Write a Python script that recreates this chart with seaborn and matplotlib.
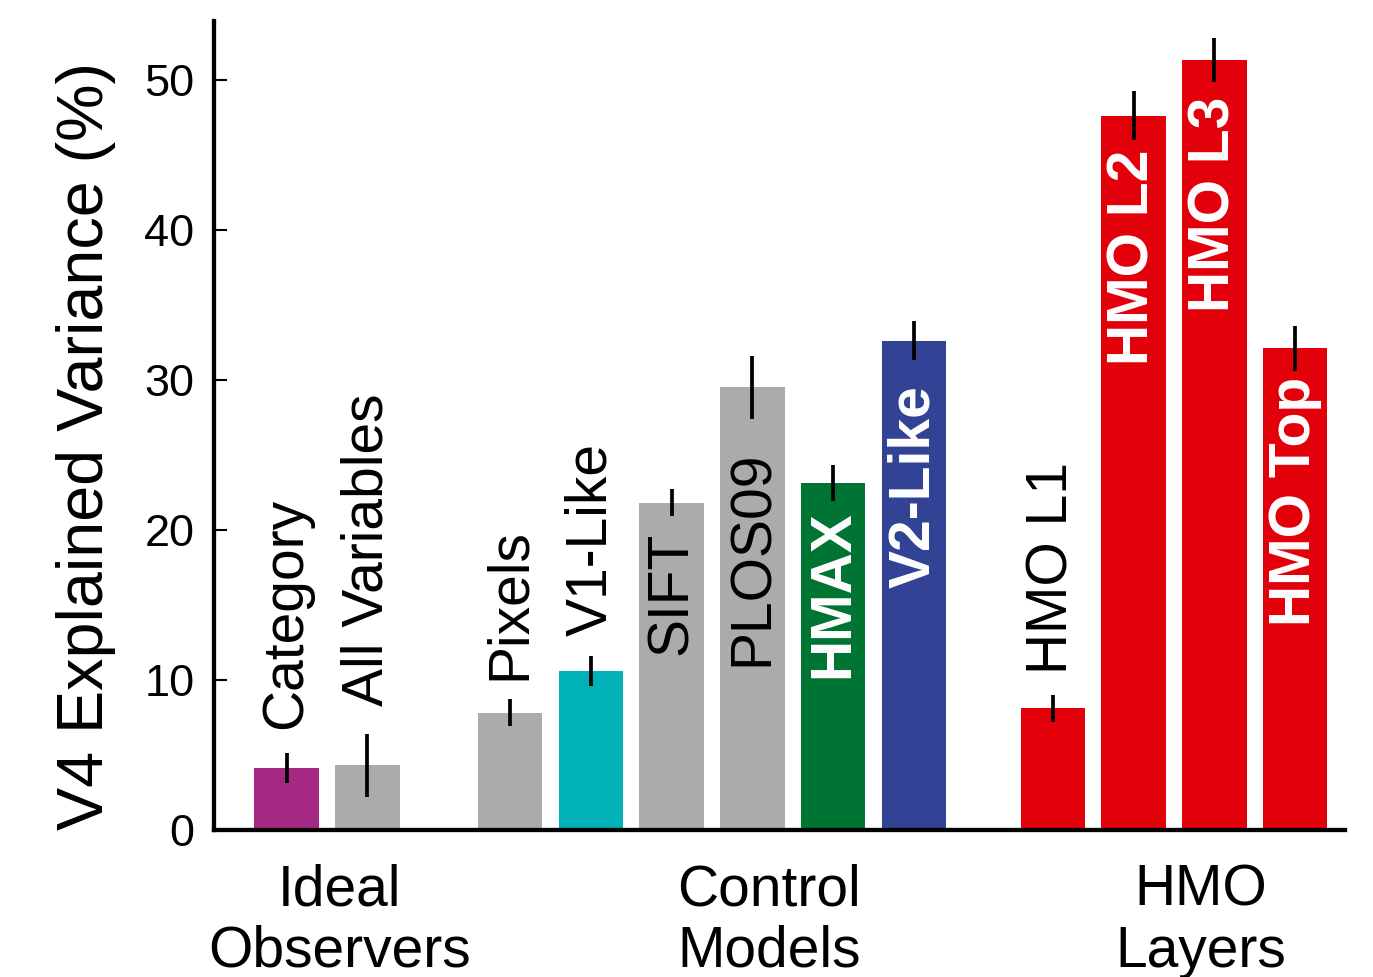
import matplotlib
matplotlib.use("Agg")
import matplotlib.pyplot as plt
import numpy as np
import pandas as pd
import seaborn as sns

# ---- data ---------------------------------------------------------------
models = ["Category", "All Variables",
          "Pixels", "V1-Like", "SIFT", "PLOS09", "HMAX", "V2-Like",
          "HMO L1", "HMO L2", "HMO L3", "HMO Top"]
group_of = ["Ideal Observers", "Ideal Observers",
            "Control Models", "Control Models", "Control Models",
            "Control Models", "Control Models", "Control Models",
            "HMO Layers", "HMO Layers", "HMO Layers", "HMO Layers"]
explained = [4.1, 4.3, 7.8, 10.6, 21.8, 29.5, 23.1, 32.6, 8.1, 47.6, 51.3, 32.1]
sem = [1.0, 2.1, 0.9, 1.0, 0.9, 2.1, 1.2, 1.3, 0.9, 1.65, 1.45, 1.5]
group_names = ["Ideal\nObservers", "Control\nModels", "HMO\nLayers"]
y_ticks = [0, 10, 20, 30, 40, 50]

# ---- styling ------------------------------------------------------------
PURPLE, GREY, TEAL = "#A62885", "#ABABAB", "#00B2B7"
GREEN, BLUE, RED = "#007433", "#324395", "#E2000B"
bar_colors = {"Category": PURPLE, "All Variables": GREY, "Pixels": GREY,
              "V1-Like": TEAL, "SIFT": GREY, "PLOS09": GREY, "HMAX": GREEN,
              "V2-Like": BLUE, "HMO L1": RED, "HMO L2": RED, "HMO L3": RED,
              "HMO Top": RED}

# label placement: (inside bar?, bold white?, gap in pixels)
label_style = {"Category": (False, False, 25), "All Variables": (False, False, 28),
               "Pixels": (False, False, 20), "V1-Like": (False, False, 20),
               "SIFT": (True, False, 28), "PLOS09": (True, False, 62),
               "HMAX": (True, True, 26), "V2-Like": (True, True, 44),
               "HMO L1": (False, False, 21), "HMO L2": (True, True, 33),
               "HMO L3": (True, True, 36), "HMO Top": (True, True, 28)}
group_label_x = [0.66, 5.98, 11.32]
group_gaps = [1.77, 1.72]

# bar positions: unit spacing within a group, wider gap between groups
positions = []
pos = 0.0
prev = None
n_breaks = 0
for g in group_of:
    if prev is not None:
        if g == prev:
            pos += 1.0
        else:
            pos += group_gaps[n_breaks]
            n_breaks += 1
    positions.append(pos)
    prev = g

df = pd.DataFrame({"model": models, "x": positions,
                   "value": explained, "sem": sem})

sns.set_style("ticks")
plt.rcParams["font.family"] = ["Liberation Sans", "DejaVu Sans"]
plt.rcParams.update({"text.color": "black", "axes.labelcolor": "black",
                     "xtick.color": "black", "ytick.color": "black",
                     "axes.edgecolor": "black"})

W, H = 1373, 978
fig = plt.figure(figsize=(W / 100, H / 100), dpi=100)
ax_left, ax_right, ax_top, ax_bottom = 214, 1345, 22, 830.5
ax = fig.add_axes([ax_left / W, 1 - ax_bottom / H,
                   (ax_right - ax_left) / W, (ax_bottom - ax_top) / H])

sns.barplot(data=df, x="x", y="value", hue="model", palette=bar_colors,
            native_scale=True, errorbar=None, width=0.8, saturation=1,
            linewidth=0, legend=False, ax=ax)
ax.errorbar(df["x"], df["value"], yerr=df["sem"], fmt="none",
            ecolor="black", elinewidth=2.7, capsize=0, zorder=3)

px2pt = 0.72
for xi, name, val, err in zip(df["x"], df["model"], df["value"], df["sem"]):
    inside, bold, gap = label_style[name]
    if inside:
        ax.annotate(name, xy=(xi, val), xytext=(0, -gap * px2pt),
                    textcoords="offset points", rotation=90, ha="center",
                    va="top", fontsize=41,
                    color="white" if bold else "black",
                    fontweight="bold" if bold else "normal", zorder=4)
    else:
        ax.annotate(name, xy=(xi, val + err), xytext=(0, gap * px2pt),
                    textcoords="offset points", rotation=90, ha="center",
                    va="bottom", fontsize=41, color="black", zorder=4)

ax.set_xlim(-0.898, 13.108)
ax.set_ylim(0, (ax_bottom - ax_top) / 15.0)
ax.set_yticks(y_ticks)
ax.set_yticklabels([str(t) for t in y_ticks], fontsize=32.5)
ax.set_xticks(group_label_x)
ax.set_xticklabels(group_names, fontsize=41, linespacing=1.16)
ax.tick_params(axis="x", length=0, pad=24)
ax.tick_params(axis="y", direction="in", length=9.4, width=1.5, pad=14)
ax.set_xlabel("")
ax.set_ylabel("V4 Explained Variance (%)", fontsize=46.5)
ax.yaxis.label.set(rotation_mode="default", va="center", ha="center")
ax.yaxis.set_label_coords((86 - ax_left) / (ax_right - ax_left),
                          (ax_bottom - 446) / (ax_bottom - ax_top))

for side in ("top", "right"):
    ax.spines[side].set_visible(False)
for side in ("left", "bottom"):
    ax.spines[side].set_linewidth(3.1)
    ax.spines[side].set_color("black")

fig.savefig("out.png", dpi=100)
